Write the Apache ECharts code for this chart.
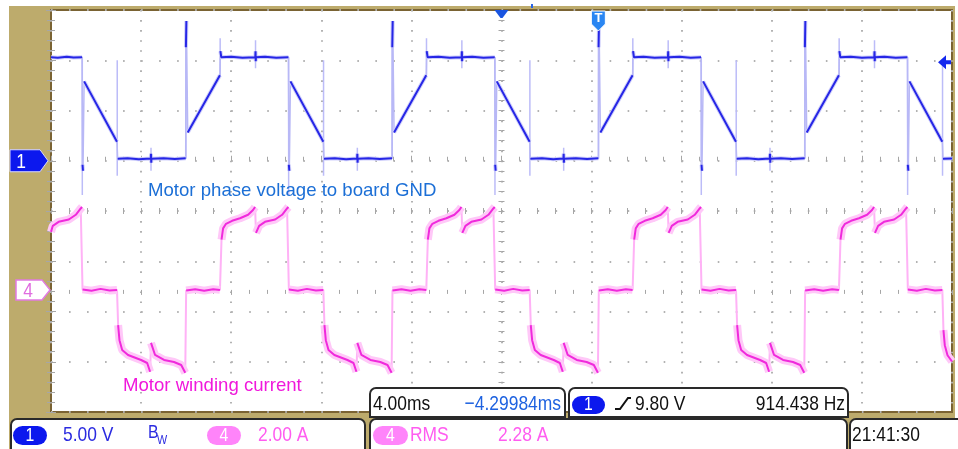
<!DOCTYPE html>
<html><head><meta charset="utf-8">
<script src="https://cdn.jsdelivr.net/npm/echarts@6/dist/echarts.min.js"></script>
<style>
html,body{margin:0;padding:0;background:#fff;overflow:hidden}
#wrap{position:relative;width:958px;height:449px}
#tan{position:absolute;left:9px;top:6px;width:946px;height:443px;background:#bdab6c}
#chart{position:absolute;left:0;top:0;width:958px;height:449px}
</style></head><body>
<div id="wrap"><div id="tan"></div><div id="chart"></div></div>
<script>
// ---- Channel 1: motor phase voltage (V), time in ms (0..40 ms, 4 ms/div). null = pen lift (fast edge)
const ch1Volts = [
 [0,10.3],[0.3,10.25],[0.7,10.35],[1.0,10.28],[1.38,10.3],[1.38,null],
 [1.40,-0.4],[1.42,-1.0],[1.42,null],
 [1.47,7.9],[2.93,1.9],[2.93,null],
 [2.96,0.2],[3.4,0.25],[3.9,0.15],[4.43,0.22],[4.44,0.7],[4.45,-0.2],[4.46,0.2],[5.0,0.25],[5.5,0.18],[5.98,0.25],[5.98,null],
 [5.99,11.3],[6.01,13.9],[6.01,null],
 [6.07,2.8],[7.50,8.5],[7.50,null],
 [7.52,10.9],[7.56,10.3],[8.0,10.35],[8.5,10.25],[9.07,10.3],[9.08,10.9],[9.09,9.9],[9.10,10.3],[9.5,10.35],[10.0,10.25],[10.54,10.3],[10.54,null],
 [10.56,-0.4],[10.58,-1.0],[10.58,null],
 [10.63,7.9],[12.09,1.9],[12.09,null],
 [12.12,0.2],[12.6,0.25],[13.1,0.15],[13.59,0.22],[13.60,0.7],[13.61,-0.2],[13.62,0.2],[14.1,0.25],[14.6,0.18],[15.14,0.25],[15.14,null],
 [15.15,11.3],[15.17,13.9],[15.17,null],
 [15.23,2.8],[16.66,8.5],[16.66,null],
 [16.68,10.9],[16.72,10.3],[17.2,10.35],[17.7,10.25],[18.23,10.3],[18.24,10.9],[18.25,9.9],[18.26,10.3],[18.7,10.35],[19.2,10.25],[19.70,10.3],[19.70,null],
 [19.72,-0.4],[19.74,-1.0],[19.74,null],
 [19.79,7.9],[21.25,1.9],[21.25,null],
 [21.28,0.2],[21.8,0.25],[22.3,0.15],[22.75,0.22],[22.76,0.7],[22.77,-0.2],[22.78,0.2],[23.3,0.25],[23.8,0.18],[24.30,0.25],[24.30,null],
 [24.31,11.3],[24.33,13.9],[24.33,null],
 [24.39,2.8],[25.82,8.5],[25.82,null],
 [25.84,10.9],[25.88,10.3],[26.3,10.35],[26.8,10.25],[27.39,10.3],[27.40,10.9],[27.41,9.9],[27.42,10.3],[27.9,10.35],[28.4,10.25],[28.86,10.3],[28.86,null],
 [28.88,-0.4],[28.90,-1.0],[28.90,null],
 [28.95,7.9],[30.41,1.9],[30.41,null],
 [30.44,0.2],[30.9,0.25],[31.4,0.15],[31.91,0.22],[31.92,0.7],[31.93,-0.2],[31.94,0.2],[32.4,0.25],[32.9,0.18],[33.46,0.25],[33.46,null],
 [33.47,11.3],[33.49,13.9],[33.49,null],
 [33.55,2.8],[34.98,8.5],[34.98,null],
 [35.00,10.9],[35.04,10.3],[35.5,10.35],[36.0,10.25],[36.55,10.3],[36.56,10.9],[36.57,9.9],[36.58,10.3],[37.0,10.35],[37.5,10.25],[38.02,10.3],[38.02,null],
 [38.04,-0.4],[38.06,-1.0],[38.06,null],
 [38.11,7.9],[39.57,1.9],[39.57,null],
 [39.60,0.2],[40,0.22]
];
// faint persistence spikes of channel 1 (pairs of ends)
const ch1Spikes = [
 [1.39,10.3],[1.39,-3.4],[1.39,null],[2.94,-1.5],[2.94,10.0],[2.94,null],[4.44,-1.0],[4.44,1.3],[4.44,null],
 [5.99,0.2],[5.99,13.9],[5.99,null],[7.51,8.5],[7.51,12.2],[7.51,null],[9.08,9.2],[9.08,12.0],[9.08,null],
 [10.55,10.3],[10.55,-3.4],[10.55,null],[12.10,-1.5],[12.10,10.0],[12.10,null],[13.60,-1.0],[13.60,1.3],[13.60,null],
 [15.15,0.2],[15.15,13.9],[15.15,null],[16.67,8.5],[16.67,12.2],[16.67,null],[18.24,9.2],[18.24,12.0],[18.24,null],
 [19.71,10.3],[19.71,-3.4],[19.71,null],[21.26,-1.5],[21.26,10.0],[21.26,null],[22.76,-1.0],[22.76,1.3],[22.76,null],
 [24.31,0.2],[24.31,13.9],[24.31,null],[25.83,8.5],[25.83,12.2],[25.83,null],[27.40,9.2],[27.40,12.0],[27.40,null],
 [28.87,10.3],[28.87,-3.4],[28.87,null],[30.42,-1.5],[30.42,10.0],[30.42,null],[31.92,-1.0],[31.92,1.3],[31.92,null],
 [33.47,0.2],[33.47,13.9],[33.47,null],[34.99,8.5],[34.99,12.2],[34.99,null],[36.56,9.2],[36.56,12.0],[36.56,null],
 [38.03,10.3],[38.03,-3.4],[38.03,null],[39.58,-1.5],[39.58,10.0]
];
// ---- Channel 4: motor winding current (A)
const ch4Amps = [
 [0,2.31],[0.08,2.55],[0.34,2.71],[0.79,2.80],[1.10,2.99],[1.32,3.24],[1.38,3.30],[1.38,null],
 [1.40,0.02],[1.80,-0.03],[2.20,0.04],[2.60,-0.02],[2.93,0.0],[2.93,null],
 [2.98,-1.40],[3.04,-2.0],[3.16,-2.39],[3.42,-2.59],[4.00,-2.79],[4.27,-2.91],[4.40,-3.26],[4.40,null],
 [4.44,-2.11],[4.62,-2.59],[5.02,-2.79],[5.46,-2.87],[5.78,-2.99],[5.96,-3.30],[5.96,null],
 [6.00,-0.02],[6.40,0.03],[6.80,-0.03],[7.20,0.03],[7.50,0.0],[7.50,null],
 [7.57,2.0],[7.64,2.45],[7.77,2.63],[8.04,2.75],[8.39,2.85],[8.75,2.99],[8.97,3.18],[9.06,3.30],[9.06,null],
 [9.10,2.27],[9.24,2.55],[9.50,2.71],[9.95,2.80],[10.26,2.99],[10.48,3.24],[10.54,3.30],[10.54,null],
 [10.56,0.02],[10.96,-0.03],[11.36,0.04],[11.76,-0.02],[12.09,0.0],[12.09,null],
 [12.14,-1.40],[12.20,-2.0],[12.32,-2.39],[12.58,-2.59],[13.16,-2.79],[13.43,-2.91],[13.56,-3.26],[13.56,null],
 [13.60,-2.11],[13.78,-2.59],[14.18,-2.79],[14.62,-2.87],[14.94,-2.99],[15.12,-3.30],[15.12,null],
 [15.16,-0.02],[15.56,0.03],[15.96,-0.03],[16.36,0.03],[16.66,0.0],[16.66,null],
 [16.73,2.0],[16.80,2.45],[16.93,2.63],[17.20,2.75],[17.55,2.85],[17.91,2.99],[18.13,3.18],[18.22,3.30],[18.22,null],
 [18.26,2.27],[18.40,2.55],[18.66,2.71],[19.11,2.80],[19.42,2.99],[19.64,3.24],[19.70,3.30],[19.70,null],
 [19.72,0.02],[20.12,-0.03],[20.52,0.04],[20.92,-0.02],[21.25,0.0],[21.25,null],
 [21.30,-1.40],[21.36,-2.0],[21.48,-2.39],[21.74,-2.59],[22.32,-2.79],[22.59,-2.91],[22.72,-3.26],[22.72,null],
 [22.76,-2.11],[22.94,-2.59],[23.34,-2.79],[23.78,-2.87],[24.10,-2.99],[24.28,-3.30],[24.28,null],
 [24.32,-0.02],[24.72,0.03],[25.12,-0.03],[25.52,0.03],[25.82,0.0],[25.82,null],
 [25.89,2.0],[25.96,2.45],[26.09,2.63],[26.36,2.75],[26.71,2.85],[27.07,2.99],[27.29,3.18],[27.38,3.30],[27.38,null],
 [27.42,2.27],[27.56,2.55],[27.82,2.71],[28.27,2.80],[28.58,2.99],[28.80,3.24],[28.86,3.30],[28.86,null],
 [28.88,0.02],[29.28,-0.03],[29.68,0.04],[30.08,-0.02],[30.41,0.0],[30.41,null],
 [30.46,-1.40],[30.52,-2.0],[30.64,-2.39],[30.90,-2.59],[31.48,-2.79],[31.75,-2.91],[31.88,-3.26],[31.88,null],
 [31.92,-2.11],[32.10,-2.59],[32.50,-2.79],[32.94,-2.87],[33.26,-2.99],[33.44,-3.30],[33.44,null],
 [33.48,-0.02],[33.88,0.03],[34.28,-0.03],[34.68,0.03],[34.98,0.0],[34.98,null],
 [35.05,2.0],[35.12,2.45],[35.25,2.63],[35.52,2.75],[35.87,2.85],[36.23,2.99],[36.45,3.18],[36.54,3.30],[36.54,null],
 [36.58,2.27],[36.72,2.55],[36.98,2.71],[37.43,2.80],[37.74,2.99],[37.96,3.24],[38.02,3.30],[38.02,null],
 [38.04,0.02],[38.44,-0.03],[38.84,0.04],[39.24,-0.02],[39.57,0.0],[39.57,null],
 [39.62,-1.6],[39.68,-2.2],[39.80,-2.6],[40.0,-2.85]
];
// scope settings
const timeRange = [0, 40];      // ms, 4.00 ms/div
const ch1Range = [-25, 15];     // V, 5.00 V/div
const ch4Range = [-4.86, 11.14];// A, 2.00 A/div
const delayRefTime = 20;        // screen centre
const triggerTime = 24.30;      // ms (delay -4.29984 ms)
const triggerLevel = 9.8;       // V
const topReadouts = ['4.00ms', '\u22124.29984ms', '9.80 V', '914.438 Hz'];
const statusReadouts = ['5.00 V', '2.00 A', 'RMS', '2.28 A', '21:41:30'];
const traceLabels = ['Motor phase voltage to board GND', 'Motor winding current'];

const tickC = '#a6a6a6', dotC = '#b2b2b2';
function xAx(extra) {
  return Object.assign({type:'value', min:timeRange[0], max:timeRange[1], interval:4,
    axisLine:{show:false}, axisLabel:{show:false}, splitLine:{show:false},
    axisTick:{show:true, inside:true, length:5, lineStyle:{color:tickC, width:1}},
    minorTick:{show:true, splitNumber:5, length:4, lineStyle:{color:tickC, width:1}}}, extra);
}
function divAx(extra) {
  return Object.assign({type:'value', min:-4, max:4, interval:1,
    axisLine:{show:false}, axisLabel:{show:false}, splitLine:{show:false},
    axisTick:{show:true, inside:true, length:5, lineStyle:{color:tickC, width:1}},
    minorTick:{show:true, splitNumber:5, length:4, lineStyle:{color:tickC, width:1}}}, extra);
}
const centreTick = (inside) => ({axisTick:{show:true, inside:inside, length:3, lineStyle:{color:tickC, width:1}},
    minorTick:{show:true, splitNumber:5, length:3, lineStyle:{color:tickC, width:1}}});

const chart = echarts.init(document.getElementById('chart'), null, {renderer:'canvas'});
const lineBase = {type:'line', symbol:'none', showSymbol:false, silent:true, animation:false, xAxisIndex:0};
const option = {
  backgroundColor:'transparent',
  animation:false,
  grid:{left:51, top:10, width:901, height:402, show:true, backgroundColor:'#ffffff',
        borderColor:'#7a6333', borderWidth:2, containLabel:false, outerBoundsMode:'none'},
  xAxis:[
    xAx({position:'bottom', splitLine:{show:true, lineStyle:{color:dotC, width:2, type:[1.6, 8.45]}}}),
    xAx({position:'top'}),
    xAx(Object.assign({position:'bottom', offset:-201}, centreTick(true))),
    xAx(Object.assign({position:'bottom', offset:-201}, centreTick(false)))
  ],
  yAxis:[
    {type:'value', min:ch1Range[0], max:ch1Range[1], interval:5, position:'left',
     axisLine:{show:false}, axisLabel:{show:false},
     axisTick:{show:true, inside:true, length:5, lineStyle:{color:tickC, width:1}},
     minorTick:{show:true, splitNumber:5, length:4, lineStyle:{color:tickC, width:1}},
     splitLine:{show:true, lineStyle:{color:dotC, width:2, type:[1.6, 16.42]}}},
    {type:'value', min:ch4Range[0], max:ch4Range[1], show:false},
    divAx({position:'right'}),
    divAx(Object.assign({position:'left', offset:-450.5}, centreTick(true))),
    divAx(Object.assign({position:'left', offset:-450.5}, centreTick(false)))
  ],
  series:[
    Object.assign({}, lineBase, {name:'ch4 edges', data:ch4Amps, yAxisIndex:1, connectNulls:true, z:2,
       lineStyle:{color:'#ffb2f6', width:2}}),
    Object.assign({}, lineBase, {name:'ch4 glow', data:ch4Amps, yAxisIndex:1, connectNulls:false, z:3,
       lineStyle:{color:'#ffc8f8', width:8}}),
    Object.assign({}, lineBase, {name:'ch1 spikes', data:ch1Spikes, yAxisIndex:0, connectNulls:false, z:2,
       lineStyle:{color:'#bcbcf8', width:1.5}}),
    Object.assign({}, lineBase, {name:'ch1 edges', data:ch1Volts, yAxisIndex:0, connectNulls:true, z:2,
       lineStyle:{color:'#b8b8f6', width:1.5}}),
    Object.assign({}, lineBase, {name:'ch1 glow', data:ch1Volts, yAxisIndex:0, connectNulls:false, z:3,
       lineStyle:{color:'#cfcffb', width:4}}),
    Object.assign({}, lineBase, {name:'ch4', data:ch4Amps, yAxisIndex:1, connectNulls:false, z:4,
       lineStyle:{color:'#f02adc', width:2}}),
    Object.assign({}, lineBase, {name:'ch1', data:ch1Volts, yAxisIndex:0, connectNulls:false, z:4,
       lineStyle:{color:'#2626e6', width:2}})
  ]
};
chart.setOption(option);

// ---- scope furniture (markers and readouts)
const P1 = (t, v) => chart.convertToPixel({seriesIndex:6}, [t, v]);
const P4 = (t, v) => chart.convertToPixel({seriesIndex:5}, [t, v]);
const y1 = P1(0, 0)[1], y4 = P4(0, 0)[1];
const xc = P1(delayRefTime, 0)[0], xt = P1(triggerTime, 0)[0], yT = P1(0, triggerLevel)[1];
const REG = '"Liberation Sans",Arial,sans-serif';
const NARROW_SCALE = 0.83;
function txt(x, y, s, color, size, align, opts) {
  opts = opts || {};
  return {type:'text', x:x, y:y, z:100, silent:true, scaleX: opts.wide ? 1 : NARROW_SCALE,
    style:{text:s, fill:color, font:(opts.weight||'normal')+' '+size+'px '+REG,
      textAlign:align||'left', textVerticalAlign:'middle', align:align||'left', verticalAlign:'middle'}};
}
function rect(x, y, w, h, r, fill, stroke, lw) {
  return {type:'rect', z:99, silent:true, shape:{x:x, y:y, width:w, height:h, r:r},
    style:{fill:fill, stroke:stroke||null, lineWidth:lw||0}};
}
function poly(points, fill, stroke, lw) {
  return {type:'polygon', z:100, silent:true, shape:{points:points}, style:{fill:fill, stroke:stroke||null, lineWidth:lw||0}};
}
const g = [];
// channel markers
g.push(poly([[10,y1-11],[40,y1-11],[48,y1],[40,y1+11],[10,y1+11]], '#0c18ee', '#d8d8ff', 1));
g.push(txt(21, y1+1, '1', '#ffffff', 21, 'center'));
g.push(poly([[16,y4-10],[42,y4-10],[50,y4],[42,y4+10],[16,y4+10]], '#ffffff', '#e27ae2', 1.5));
g.push(txt(28, y4+1, '4', '#e06ce0', 21, 'center'));
// delay reference, trigger marker, trigger level
g.push(poly([[xc-7,10],[xc+7,10],[xc+1,18],[xc-1,18]], '#1a55e0'));
g.push(rect(531, 4, 2, 4, 0, '#2a66e6'));
g.push(poly([[xt-7,11],[xt+7,11],[xt+7,24],[xt,31],[xt-7,24]], '#2a86f2', '#ffffff', 1));
g.push(txt(xt, 18, 'T', '#ffffff', 13, 'center', {wide:true, weight:'bold'}));
g.push(poly([[938,yT],[946,yT-7],[946,yT-2],[951,yT-2],[951,yT+2],[946,yT+2],[946,yT+7]], '#1428ee'));
// trace labels
g.push(txt(148, 191, traceLabels[0], '#1c6fd6', 18.6, 'left', {wide:true}));
g.push(txt(123, 386, traceLabels[1], '#f018dc', 18.6, 'left', {wide:true}));
// top row readout boxes
g.push(rect(370, 388, 195, 29, [6,6,0,0], '#ffffff', '#2a2a2a', 2));
g.push(rect(569, 388, 279, 29, [6,6,0,0], '#ffffff', '#2a2a2a', 2));
g.push(txt(373, 404, topReadouts[0], '#111111', 21));
g.push(txt(561, 404, topReadouts[1], '#1e62e0', 21, 'right'));
g.push(rect(572, 396, 33, 18, 9, '#0c18ee'));
g.push(txt(588.5, 405, '1', '#ffffff', 19, 'center'));
g.push({type:'polyline', z:100, silent:true, shape:{points:[[615,409],[620,409],[628,398],[631,398]]},
  style:{stroke:'#111111', lineWidth:2, fill:null}});
g.push(txt(635, 404, topReadouts[2], '#111111', 21));
g.push(txt(845, 404, topReadouts[3], '#111111', 21, 'right'));
// status row boxes
g.push(rect(11, 419, 354, 40, 6, '#ffffff', '#2a2a2a', 2));
g.push(rect(370, 419, 477, 40, 6, '#ffffff', '#2a2a2a', 2));
g.push(rect(850, 419, 120, 40, 6, '#ffffff', '#2a2a2a', 2));
g.push(rect(13, 426, 34, 19, 9.5, '#0c18ee'));
g.push(txt(30, 436, '1', '#ffffff', 19, 'center'));
g.push(txt(63, 435, statusReadouts[0], '#2b2be0', 21));
g.push(txt(148, 433, 'B', '#2b2be0', 19));
g.push(txt(157, 440, 'W', '#2b2be0', 13));
g.push(rect(207, 426, 34, 19, 9.5, '#ff84fa'));
g.push(txt(224, 436, '4', '#ffffff', 19, 'center'));
g.push(txt(258, 435, statusReadouts[1], '#ff5cf0', 21));
g.push(rect(373, 426, 35, 19, 9.5, '#ff84fa'));
g.push(txt(390.5, 436, '4', '#ffffff', 19, 'center'));
g.push(txt(410, 435, statusReadouts[2], '#ff5cf0', 21));
g.push(txt(498, 435, statusReadouts[3], '#ff5cf0', 21));
g.push(txt(852, 435, statusReadouts[4], '#111111', 21));
chart.setOption({graphic:{elements:g}});
</script></body></html>
